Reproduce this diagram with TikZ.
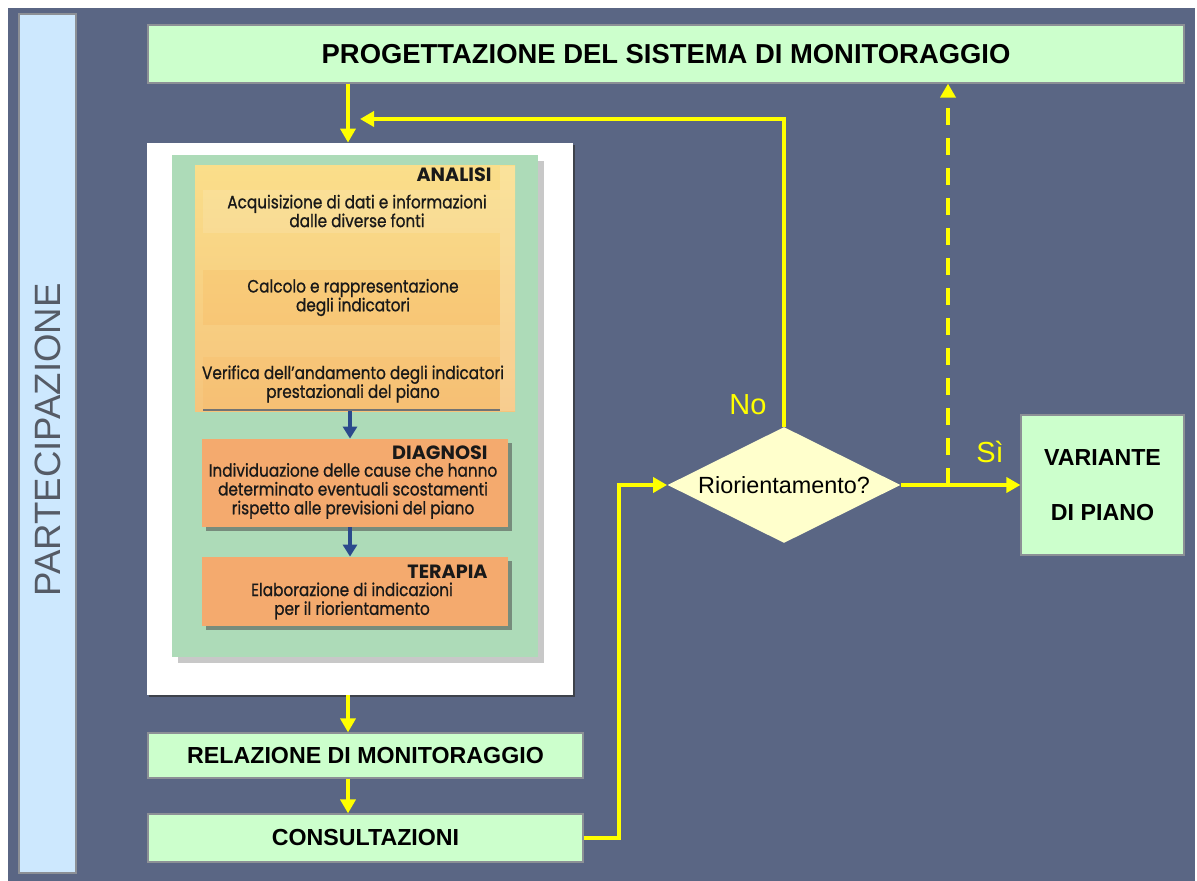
\documentclass[tikz,border=0pt]{standalone}
\usepackage{fontspec}
\setmainfont{Liberation Sans}
\newfontfamily\futura[FakeStretch=0.86, FakeBold=0.9]{Poppins}
\newfontfamily\futurah{Poppins}
\usetikzlibrary{shapes.geometric,shadows,calc,arrows.meta}
\definecolor{bgc}{HTML}{5A6684}
\definecolor{partfill}{HTML}{CDE8FE}
\definecolor{lgreen}{HTML}{CCFFCC}
\definecolor{edgegray}{HTML}{8C9096}
\definecolor{panelgreen}{HTML}{ADDBB8}
\definecolor{ytop}{HTML}{FADE8A}
\definecolor{ybot}{HTML}{F6C47C}
\definecolor{orangebox}{HTML}{F4AA6E}
\definecolor{ylw}{HTML}{FFFF00}
\definecolor{diafill}{HTML}{FFFFCC}
\definecolor{darkblue}{HTML}{2B4A8C}
\definecolor{parttext}{HTML}{555B66}
\begin{document}
\begin{tikzpicture}[x=0.5pt,y=-0.5pt,
  lbox/.style={draw=edgegray, fill=lgreen, line width=0.6pt, inner sep=0pt,
    font=\bfseries\fontsize{11.6}{14}\selectfont},
  arr/.style={draw=ylw, line width=2pt, -{Triangle[length=7pt,width=7.5pt]}},
  dasharr/.style={arr, dash pattern=on 8.5pt off 6.5pt},
  barr/.style={draw=darkblue, line width=1.6pt, -{Triangle[length=6pt,width=7pt]}},
  obox/.style={fill=orangebox, inner sep=0pt, minimum width=153pt,
    drop shadow={shadow xshift=2pt, shadow yshift=-2pt, opacity=0.55, fill=black!70}},
  intext/.style={align=center, inner sep=0pt, text=black!90,
    font=\futura\fontsize{8.9}{9.4}\selectfont},
  inhead/.style={inner sep=0pt, anchor=east, text=black!90,
    font=\futurah\bfseries\fontsize{9.6}{10}\selectfont},
  ylabel/.style={text=ylw, inner sep=0pt, font=\fontsize{14.5}{16}\selectfont}
]
\useasboundingbox (0,0) rectangle (1197,881);
\fill[white] (0,0) rectangle (1197,881);
\fill[bgc] (8,8) rectangle (1195,881);

% participation bar
\node[draw=edgegray, fill=partfill, line width=0.6pt, minimum width=28.5pt,
  minimum height=429.5pt, inner sep=0pt] (part) at (47.5,443.5) {};
\node[rotate=90, text=parttext, inner sep=0pt, font=\fontsize{18.3}{20}\selectfont]
  (parttxt) at (47.5,440) {PARTECIPAZIONE};

% top box
\node[lbox, minimum width=518pt, minimum height=29pt,
  font=\bfseries\fontsize{13.7}{15}\selectfont] (prog) at (666,54)
  {PROGETTAZIONE DEL SISTEMA DI MONITORAGGIO};

% white frame
\node[fill=white, minimum width=213pt, minimum height=276pt, inner sep=0pt,
  drop shadow={shadow xshift=1.2pt, shadow yshift=-1.2pt, opacity=0.7, fill=black!80}]
  (white) at (360,419) {};
% green panel
\node[fill=panelgreen, minimum width=183pt, minimum height=251pt, inner sep=0pt,
  drop shadow={shadow xshift=3pt, shadow yshift=-3pt, opacity=0.3, fill=black!70}]
  (panel) at (355,406) {};

% analisi region
\node[top color=ytop, bottom color=ybot, minimum width=160pt, minimum height=122.5pt,
  inner sep=0pt] (analisi) at (355,288.5) {};
\fill[white, opacity=0.12] (203,190) rectangle (500,233);
\fill[orange, opacity=0.08] (203,270) rectangle (500,325);
\fill[orange, opacity=0.06] (203,357) rectangle (500,410);
\fill[white, opacity=0.15] (500,166) rectangle (515,411);
\draw[black!55, line width=1.2pt] (203,410) -- (500,410);
\node[inhead] (hanal) at (492,175) {ANALISI};
\node[intext] (t1) at (357,211) {Acquisizione di dati e informazioni\\dalle diverse fonti};
\node[intext] (t2) at (353,297.5) {Calcolo e rappresentazione\\degli indicatori};
\node[intext] (t3) at (353,384) {Verifica dell’andamento degli indicatori\\prestazionali del piano};

% diagnosi
\node[obox, minimum height=44pt] (diag) at (355,483) {};
\node[inhead] (hdiag) at (488,453) {DIAGNOSI};
\node[intext] (t4) at (353,491) {Individuazione delle cause che hanno\\determinato eventuali scostamenti\\rispetto alle previsioni del piano};

% terapia
\node[obox, minimum height=34.5pt] (terap) at (355,591.5) {};
\node[inhead] (hter) at (488,572) {TERAPIA};
\node[intext] (t5) at (352,601) {Elaborazione di indicazioni\\per il riorientamento};

\draw[barr] (analisi.south -| 350,0) -- (diag.north -| 350,0);
\draw[barr] (diag.south -| 350,0) -- (terap.north -| 350,0);

% lower boxes
\node[lbox, minimum width=217.5pt, minimum height=22.5pt] (rel) at (365.5,755.5)
  {RELAZIONE DI MONITORAGGIO};
\node[lbox, minimum width=217.5pt, minimum height=24pt] (cons) at (365.5,838)
  {CONSULTAZIONI};

% decision
\node[diamond, aspect=2, draw=none, fill=diafill, minimum width=116.5pt,
  minimum height=58pt, inner sep=0pt, font=\fontsize{11.7}{14}\selectfont]
  (dia) at (784,485) {Riorientamento?};

% variant
\node[lbox, minimum width=81.5pt, minimum height=70pt, align=center,
  font=\bfseries\fontsize{11.6}{27.5}\selectfont] (var) at (1102.5,485)
  {VARIANTE\\DI PIANO};

% labels
\node[ylabel] (no) at (748,405) {No};
\node[ylabel] (si) at (990,452) {Sì};

% coordinates for connectors
\coordinate (cx) at (348,0);
\coordinate (cturn) at (619,0);
\coordinate (dx) at (948,0);
\coordinate (ly) at (0,119);
\coordinate (lend) at (360,119);

% yellow connectors
\draw[arr] (prog.south -| cx) -- (white.north -| cx);
\draw[arr] (white.south -| cx) -- (rel.north -| cx);
\draw[arr] (rel.south -| cx) -- (cons.north -| cx);
\draw[arr] (cons.east) -- (cons.east -| cturn) |- (dia.west);
\draw[arr] (dia.east) -- (var.west);
\draw[arr] (dia.north) -- (dia.north |- ly) -- (lend);
\draw[dasharr] (dia.east -| dx) -- (prog.south -| dx);
\end{tikzpicture}
\end{document}
